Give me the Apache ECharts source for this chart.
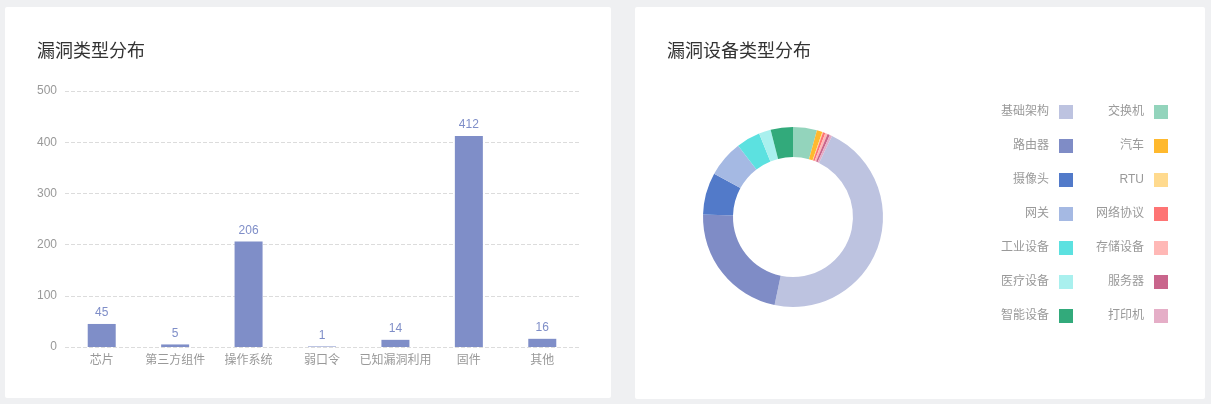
<!DOCTYPE html>
<html>
<head>
<meta charset="utf-8">
<script src="https://cdn.jsdelivr.net/npm/echarts@6/dist/echarts.min.js"></script>
<style>
  html, body { margin: 0; padding: 0; width: 1211px; height: 404px; background: #eff0f2; overflow: hidden; }
  .card { position: absolute; background: #fff; border-radius: 2px; }
  #c1 { left: 5px; top: 7px; width: 606px; height: 391px; }
  #c2 { left: 635px; top: 7px; width: 570px; height: 392px; }
</style>
</head>
<body>
<div class="card" id="c1"></div>
<div class="card" id="c2"></div>
<script>
// ---- data ----
var barTitle = '漏洞类型分布';
var categories = ['芯片', '第三方组件', '操作系统', '弱口令', '已知漏洞利用', '固件', '其他'];
var counts = [45, 5, 206, 1, 14, 412, 16];
var yMax = 500;
var yStep = 100;

var pieTitle = '漏洞设备类型分布';
// clockwise from 12 o'clock
var deviceNames = ['交换机', '汽车', 'RTU', '网络协议', '存储设备', '服务器', '打印机',
                   '基础架构', '路由器', '摄像头', '网关', '工业设备', '医疗设备', '智能设备'];
var deviceValues = [30, 7, 1, 3, 3, 3, 3, 323, 155, 53, 46, 30, 15, 28];
var deviceColors = ['#93d4bc', '#ffb92e', '#ffda8e', '#fe7474', '#ffb8b6', '#c9658c', '#e5aec7',
                    '#bdc3e0', '#7f8cc6', '#527ac9', '#a5b9e3', '#5ce1e0', '#a9f0ee', '#32aa7b'];
var legendLeft = ['基础架构', '路由器', '摄像头', '网关', '工业设备', '医疗设备', '智能设备'];
var legendRight = ['交换机', '汽车', 'RTU', '网络协议', '存储设备', '服务器', '打印机'];

var FONT = "'Liberation Sans', 'Noto Sans CJK SC', sans-serif";

// ---- bar chart ----
var chart1 = echarts.init(document.getElementById('c1'));
chart1.setOption({
  animation: false,
  textStyle: { fontFamily: FONT },
  title: {
    text: barTitle, left: 32, top: 36, padding: 0,
    textStyle: { fontSize: 18, fontWeight: 'normal', color: '#333', fontFamily: FONT }
  },
  grid: { left: 60, right: 32, top: 84, bottom: 51, containLabel: false },
  xAxis: {
    type: 'category',
    data: categories,
    axisLine: { show: false },
    axisTick: { show: false },
    axisLabel: { color: '#999', fontSize: 12, margin: 8, fontFamily: FONT, interval: 0 }
  },
  yAxis: {
    type: 'value',
    min: 0, max: yMax, interval: yStep,
    axisLine: { show: false },
    axisTick: { show: false },
    axisLabel: { color: '#999', fontSize: 12, margin: 8, fontFamily: FONT },
    splitLine: { lineStyle: { type: 'dashed', color: '#dcdcdc' } }
  },
  series: [{
    type: 'bar',
    data: counts,
    barWidth: 28,
    itemStyle: { color: '#7f8ec8' },
    label: { show: true, position: 'top', color: '#7f8ec8', fontSize: 12, fontFamily: FONT }
  }]
});

// ---- pie chart ----
var chart2 = echarts.init(document.getElementById('c2'));
var pieData = deviceNames.map(function (n, i) {
  return { name: n, value: deviceValues[i], itemStyle: { color: deviceColors[i] } };
});
function legendCfg(names, right) {
  return {
    data: names,
    orient: 'vertical',
    right: right,
    top: 93,
    align: 'right',
    itemWidth: 14,
    itemHeight: 14,
    itemGap: 20,
    icon: 'rect',
    selectedMode: false,
    textStyle: { color: '#999', fontSize: 12, fontFamily: FONT, padding: [0, 5, 0, 0] }
  };
}
chart2.setOption({
  animation: false,
  textStyle: { fontFamily: FONT },
  title: {
    text: pieTitle, left: 32, top: 36, padding: 0,
    textStyle: { fontSize: 18, fontWeight: 'normal', color: '#333', fontFamily: FONT }
  },
  legend: [legendCfg(legendLeft, 127), legendCfg(legendRight, 32)],
  series: [{
    type: 'pie',
    center: [158, 210],
    radius: [60, 90],
    startAngle: 90,
    clockwise: true,
    avoidLabelOverlap: false,
    label: { show: false },
    labelLine: { show: false },
    itemStyle: { borderWidth: 0 },
    emphasis: { disabled: true },
    data: pieData
  }]
});
</script>
</body>
</html>
